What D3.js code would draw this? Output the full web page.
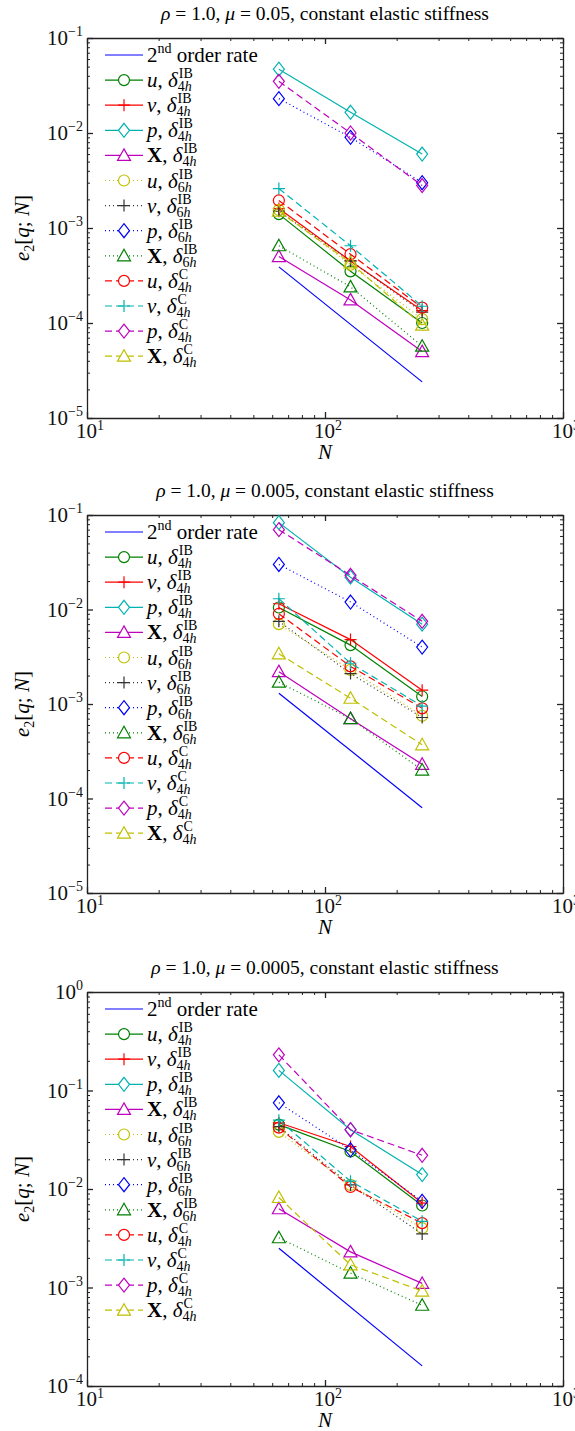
<!DOCTYPE html>
<html>
<head>
<meta charset="utf-8">
<script src="https://cdn.jsdelivr.net/npm/d3@7"></script>
<style>
  body { margin: 0; background: #fff; }
  svg { display: block; font-family: "Liberation Serif", "DejaVu Serif", serif; }
</style>
</head>
<body>
<svg id="chart" width="575" height="1431"></svg>
<script>
// grid sizes and data
const Ns = [64, 128, 256];
const rateNs = [64, 256];
const muLabels = ["0.05", "0.005", "0.0005"];
const yDomains = [[1e-5, 1e-1], [1e-5, 1e-1], [1e-4, 1e0]];
const yMajorExps = [[-5, -4, -3, -2, -1], [-5, -4, -3, -2, -1], [-4, -3, -2, -1, 0]];

// 2nd order reference line, one pair per panel
const rateValues = [[3.9e-4, 2.4e-5], [1.3e-3, 8.0e-5], [2.5e-3, 1.6e-4]];

// legend order: u,v,p,X with delta_4h IB / delta_6h IB / delta_4h C
const seriesVars = ["u", "v", "p", "X", "u", "v", "p", "X", "u", "v", "p", "X"];
const seriesKernel = ["IB", "IB", "IB", "IB", "IB", "IB", "IB", "IB", "C", "C", "C", "C"];
const seriesWidth = ["4h", "4h", "4h", "4h", "6h", "6h", "6h", "6h", "4h", "4h", "4h", "4h"];

const errorsMu005 = [
  [1.4e-3, 3.5e-4, 1.0e-4],
  [1.6e-3, 4.5e-4, 1.35e-4],
  [4.7e-2, 1.65e-2, 6.0e-3],
  [5.0e-4, 1.75e-4, 5.0e-5],
  [1.55e-3, 4.1e-4, 1.1e-4],
  [1.5e-3, 4.5e-4, 1.3e-4],
  [2.3e-2, 9.0e-3, 3.0e-3],
  [6.5e-4, 2.4e-4, 5.7e-5],
  [1.95e-3, 5.3e-4, 1.45e-4],
  [2.6e-3, 6.5e-4, 1.5e-4],
  [3.5e-2, 1.0e-2, 2.8e-3],
  [1.5e-3, 4.3e-4, 9.5e-5]
];

const errorsMu0005 = [
  [1.05e-2, 4.2e-3, 1.2e-3],
  [1.15e-2, 4.8e-3, 1.4e-3],
  [8.3e-2, 2.2e-2, 7.0e-3],
  [2.2e-3, 7.0e-4, 2.3e-4],
  [7.0e-3, 2.3e-3, 7.5e-4],
  [7.5e-3, 2.1e-3, 7.2e-4],
  [3.0e-2, 1.2e-2, 4.0e-3],
  [1.7e-3, 7.0e-4, 2.0e-4],
  [9.0e-3, 2.5e-3, 9.0e-4],
  [1.3e-2, 2.7e-3, 9.5e-4],
  [7.0e-2, 2.3e-2, 7.5e-3],
  [3.4e-3, 1.15e-3, 3.7e-4]
];

const errorsMu00005 = [
  [4.5e-2, 2.4e-2, 6.8e-3],
  [4.7e-2, 2.7e-2, 7.2e-3],
  [1.6e-1, 4.0e-2, 1.4e-2],
  [6.3e-3, 2.3e-3, 1.1e-3],
  [3.8e-2, 1.1e-2, 4.0e-3],
  [4.3e-2, 1.1e-2, 3.5e-3],
  [7.5e-2, 2.5e-2, 7.5e-3],
  [3.2e-3, 1.4e-3, 6.6e-4],
  [4.2e-2, 1.05e-2, 4.5e-3],
  [5.0e-2, 1.2e-2, 4.7e-3],
  [2.3e-1, 4.0e-2, 2.2e-2],
  [8.2e-3, 1.7e-3, 9.2e-4]
];

const panelErrors = [errorsMu005, errorsMu0005, errorsMu00005];

// styles (matlab-ish colours)
const green = "#008000", red = "#ff0000", cyan = "#00b3b0", magenta = "#bf00bf",
      yellow = "#bfbf00", black = "#333333", blue = "#0000ff";
const seriesColor = [green, red, cyan, magenta, yellow, black, blue, green, red, cyan, magenta, yellow];
const seriesDash = [null, null, null, null, "1,3", "1,3", "1,3", "1,3", "7,4", "7,4", "7,4", "7,4"];
const seriesMarker = ["circle", "plus", "diamond", "triangle", "circle", "plus", "diamond", "triangle",
                      "circle", "plus", "diamond", "triangle"];

const markerPath = {
  circle: "M5.5,0A5.5,5.5 0 1,1 -5.5,0A5.5,5.5 0 1,1 5.5,0Z",
  plus: "M-6,0H6M0,-6V6",
  diamond: "M0,-7L5.5,0L0,7L-5.5,0Z",
  triangle: "M0,-6.5L6.5,5L-6.5,5Z"
};

const panels = [
  { top: 38, bottom: 418, titleY: 20 },
  { top: 515, bottom: 893, titleY: 497 },
  { top: 992, bottom: 1386, titleY: 974 }
];

const left = 87, right = 563;
const fs = 21, fsSmall = 14;
const svg = d3.select("#chart");

panels.forEach((pan, i) => drawPanel(pan, i));

function drawPanel(pan, i) {
  const g = svg.append("g");

  const x = d3.scaleLog().domain([10, 1000]).range([left, right]);
  const y = d3.scaleLog().domain(yDomains[i]).range([pan.bottom, pan.top]);

  const xMinor = [], yMinor = [];
  for (let e = 1; e < 3; e++) for (let k = 2; k <= 9; k++) xMinor.push(k * Math.pow(10, e));
  const [y0, y1] = yDomains[i];
  for (let e = Math.round(Math.log10(y0)); e < Math.round(Math.log10(y1)); e++)
    for (let k = 2; k <= 9; k++) yMinor.push(k * Math.pow(10, e));
  const xMajor = [10, 100, 1000];
  const yMajor = yMajorExps[i].map(e => Math.pow(10, e));

  // box + inward ticks on all four sides
  const axes = [
    [d3.axisBottom(x), `translate(0,${pan.bottom})`, xMinor, xMajor],
    [d3.axisTop(x), `translate(0,${pan.top})`, xMinor, xMajor],
    [d3.axisLeft(y), `translate(${left},0)`, yMinor, yMajor],
    [d3.axisRight(y), `translate(${right},0)`, yMinor, yMajor]
  ];
  axes.forEach(([ax, tr, minor, major]) => {
    g.append("g").attr("transform", tr)
      .call(ax.tickValues(minor).tickSizeInner(-3).tickSizeOuter(0).tickFormat(""))
      .call(s => s.selectAll("line,path").attr("stroke", "#222").attr("stroke-width", 1));
    g.append("g").attr("transform", tr)
      .call(ax.tickValues(major).tickSizeInner(-6).tickSizeOuter(0).tickFormat(""))
      .call(s => s.selectAll("line,path").attr("stroke", "#222").attr("stroke-width", 1.3));
  });

  // tick labels with superscripts
  xMajor.forEach(v => {
    const t = g.append("text").attr("x", x(v) + 3).attr("y", pan.bottom + 20)
      .attr("text-anchor", "middle").attr("font-size", fs).attr("fill", "#111");
    t.append("tspan").text("10");
    t.append("tspan").attr("dy", -8).attr("font-size", fsSmall).text(Math.round(Math.log10(v)));
  });
  yMajorExps[i].forEach(e => {
    const t = g.append("text").attr("x", left - 4).attr("y", y(Math.pow(10, e)) + 7)
      .attr("text-anchor", "end").attr("font-size", fs).attr("fill", "#111");
    t.append("tspan").text("10");
    t.append("tspan").attr("dy", -9).attr("font-size", fsSmall).text(e < 0 ? "\u2212" + (-e) : e);
  });

  // axis labels
  g.append("text").attr("x", (left + right) / 2).attr("y", pan.bottom + 41)
    .attr("text-anchor", "middle").attr("font-size", fs).attr("font-style", "italic").text("N");

  const yl = g.append("text")
    .attr("transform", `translate(29,${(pan.top + pan.bottom) / 2}) rotate(-90)`)
    .attr("text-anchor", "middle").attr("font-size", fs);
  yl.append("tspan").attr("font-style", "italic").text("e");
  yl.append("tspan").attr("dy", 5).attr("font-size", fsSmall).text("2");
  yl.append("tspan").attr("dy", -5).text("[");
  yl.append("tspan").attr("font-style", "italic").text("q");
  yl.append("tspan").text("; ");
  yl.append("tspan").attr("font-style", "italic").text("N");
  yl.append("tspan").text("]");

  // title
  const tt = g.append("text").attr("x", (left + right) / 2).attr("y", pan.titleY)
    .attr("text-anchor", "middle").attr("font-size", 19.5);
  tt.append("tspan").attr("font-style", "italic").text("\u03c1");
  tt.append("tspan").text(" = 1.0, ");
  tt.append("tspan").attr("font-style", "italic").text("\u03bc");
  tt.append("tspan").text(` = ${muLabels[i]}, constant elastic stiffness`);

  // data
  const line = d3.line().x(d => x(d[0])).y(d => y(d[1]));

  g.append("path")
    .datum(rateNs.map((n, k) => [n, rateValues[i][k]]))
    .attr("fill", "none").attr("stroke", blue).attr("stroke-width", 1.2)
    .attr("d", line);

  const errs = panelErrors[i];
  errs.forEach((vals, s) => {
    const pts = Ns.map((n, k) => [n, vals[k]]);
    g.append("path").datum(pts)
      .attr("fill", "none").attr("stroke", seriesColor[s]).attr("stroke-width", 1.2)
      .attr("stroke-dasharray", seriesDash[s])
      .attr("d", line);
    g.append("g").selectAll("path").data(pts).join("path")
      .attr("transform", d => `translate(${x(d[0])},${y(d[1])})`)
      .attr("d", markerPath[seriesMarker[s]])
      .attr("fill", "none").attr("stroke", seriesColor[s]).attr("stroke-width", 1.2);
  });

  // legend
  const lx0 = 105, lx1 = 143, tx = 147, ly0 = pan.top + 17, dy = 25.1;
  const leg = g.append("g");

  leg.append("line").attr("x1", lx0).attr("x2", lx1).attr("y1", ly0).attr("y2", ly0)
    .attr("stroke", blue).attr("stroke-width", 1.2);
  const rt = leg.append("text").attr("x", tx).attr("y", ly0 + 7).attr("font-size", fs);
  rt.append("tspan").text("2");
  rt.append("tspan").attr("dy", -9).attr("font-size", fsSmall).text("nd");
  rt.append("tspan").attr("dy", 9).text(" order rate");

  seriesVars.forEach((v, s) => {
    const yy = ly0 + dy * (s + 1);
    leg.append("line").attr("x1", lx0).attr("x2", lx1).attr("y1", yy).attr("y2", yy)
      .attr("stroke", seriesColor[s]).attr("stroke-width", 1.2)
      .attr("stroke-dasharray", seriesDash[s]);
    leg.append("path").attr("transform", `translate(${(lx0 + lx1) / 2},${yy})`)
      .attr("d", markerPath[seriesMarker[s]])
      .attr("fill", "white").attr("stroke", seriesColor[s]).attr("stroke-width", 1.2);

    // one text element: base, superscript, subscript stacked under it
    const t = leg.append("text").attr("x", tx).attr("y", yy + 7).attr("font-size", fs);
    if (v === "X") t.append("tspan").attr("font-weight", "bold").text("X");
    else t.append("tspan").attr("font-style", "italic").text(v);
    t.append("tspan").text(", ");
    t.append("tspan").attr("font-style", "italic").text("\u03b4");
    const w = t.node().getComputedTextLength();
    t.append("tspan").attr("x", tx + w + 1).attr("dy", -9).attr("font-size", fsSmall)
      .text(seriesKernel[s]);
    t.append("tspan").attr("x", tx + w).attr("dy", 13).attr("font-size", fsSmall)
      .text(seriesWidth[s][0]);
    t.append("tspan").attr("font-style", "italic").attr("font-size", fsSmall).text("h");
  });
}
</script>
</body>
</html>
